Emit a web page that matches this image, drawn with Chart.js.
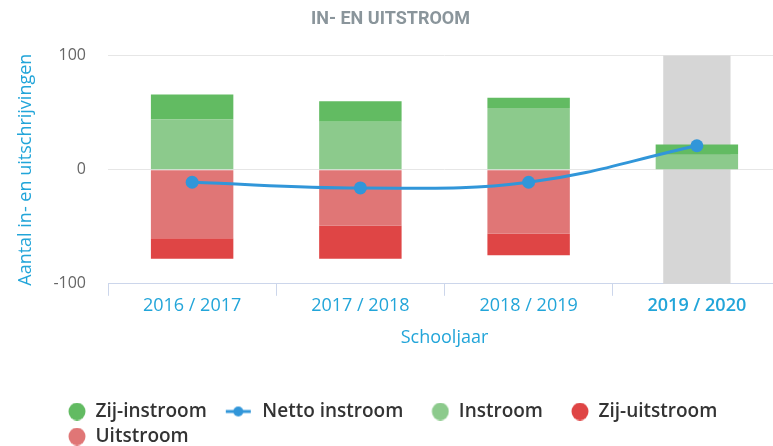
<!DOCTYPE html>
<html lang="nl">
<head>
<meta charset="utf-8">
<title>In- en uitstroom</title>
<script src="https://cdn.jsdelivr.net/npm/chart.js@4.4.1/dist/chart.umd.min.js"></script>
<style>
  html, body { margin: 0; padding: 0; background: #fff; overflow: hidden; }
  #wrap { position: relative; width: 791px; height: 456px; }
</style>
</head>
<body>
<div id="wrap"><canvas id="chart-instroom"></canvas></div>
<script>
const SCHOOLJAREN = ['2016 / 2017', '2017 / 2018', '2018 / 2019', '2019 / 2020'];
const HUIDIG_JAAR = '2019 / 2020';

const ZIJ_INSTROOM = [22, 18, 9, 9];
const INSTROOM = [44, 42, 54, 13];
const UITSTROOM = [-60, -49, -56, 0];
const ZIJ_UITSTROOM = [-18, -29, -19, 0];
const NETTO_INSTROOM = [-11, -16, -11, 21];

const Y_TICKS = [-100, 0, 100];

const COLORS = {
    zijInstroom: '#62bb62',
    instroom: '#8cca8c',
    zijUitstroom: '#df4545',
    uitstroom: '#e07676',
    netto: '#3196d9',
    band: '#d6d6d6',
    blue: '#22a5d9',
    axis: '#ccd6eb',
    grid: '#e6e6e6'
};

const FONT = 'Open Sans';

// legend symbols: circle for bars, line + dot for the netto series
function legendMarker(color, isLine) {
    const c = document.createElement('canvas');
    c.width = 40;
    c.height = 18;
    const g = c.getContext('2d');
    g.fillStyle = color;
    g.strokeStyle = color;
    if (isLine) {
        g.lineWidth = 3;
        g.beginPath(); g.moveTo(13, 9); g.lineTo(38, 9); g.stroke();
        g.beginPath(); g.arc(25.5, 9, 5, 0, Math.PI * 2); g.fill();
    } else {
        g.beginPath(); g.ellipse(31, 9, 8.5, 9, 0, 0, Math.PI * 2); g.fill();
    }
    return c;
}

// grey band behind the current school year
const highlightBand = {
    id: 'highlightBand',
    beforeDatasetsDraw(chart, args, opts) {
        const x = chart.scales.x, y = chart.scales.y;
        const i = x.getLabels().indexOf(opts.label);
        if (i < 0) return;
        const w = x.width / x.getLabels().length * opts.widthRatio;
        const cx = x.getPixelForValue(i);
        const top = y.getPixelForValue(y.max);
        const bottom = y.getPixelForValue(y.min);
        const ctx = chart.ctx;
        ctx.save();
        ctx.fillStyle = opts.color;
        ctx.fillRect(cx - w / 2, top, w, bottom - top);
        ctx.restore();
    }
};

// legend rows start at a fixed indent instead of each row centered
const legendIndent = {
    id: 'legendIndent',
    afterLayout(chart, args, opts) {
        chart.legend.left += opts.offset;
        chart.legend.right += opts.offset;
    }
};

const barStyle = { borderWidth: 0, stack: 'stroom' };

const datasets = [
    { type: 'bar', label: 'Zij-instroom', data: ZIJ_INSTROOM, backgroundColor: COLORS.zijInstroom, order: 2, ...barStyle },
    {
        type: 'line', label: 'Netto instroom', data: NETTO_INSTROOM,
        borderColor: COLORS.netto, backgroundColor: COLORS.netto,
        borderWidth: 3, tension: 0.4, pointRadius: 6.5, pointBorderWidth: 0, order: 0
    },
    { type: 'bar', label: 'Instroom', data: INSTROOM, backgroundColor: COLORS.instroom, order: 1, ...barStyle },
    { type: 'bar', label: 'Zij-uitstroom', data: ZIJ_UITSTROOM, backgroundColor: COLORS.zijUitstroom, order: 2, ...barStyle },
    { type: 'bar', label: 'Uitstroom', data: UITSTROOM, backgroundColor: COLORS.uitstroom, order: 1, ...barStyle }
];

const markers = datasets.map(d => legendMarker(d.backgroundColor, d.type === 'line'));

new Chart(document.getElementById('chart-instroom'), {
    data: { labels: SCHOOLJAREN, datasets },
    plugins: [highlightBand, legendIndent],
    options: {
        responsive: true,
        maintainAspectRatio: false,
        animation: false,
        layout: { padding: { left: 0, right: 10, top: 0, bottom: 0 } },
        datasets: { bar: { categoryPercentage: 1, barPercentage: 0.49 } },
        scales: {
            x: {
                stacked: true,
                grid: { drawOnChartArea: false, drawTicks: true, tickLength: 12, color: COLORS.axis },
                border: { color: COLORS.axis, width: 1 },
                ticks: {
                    padding: -1,
                    color: COLORS.blue,
                    font: ctx => ({
                        family: FONT, size: 18,
                        weight: ctx.tick && ctx.tick.label === HUIDIG_JAAR ? '600' : 'normal'
                    })
                },
                title: {
                    display: true, text: 'Schooljaar', color: COLORS.blue,
                    font: { family: FONT, size: 18 }, padding: { top: 12, bottom: 47 }
                }
            },
            y: {
                stacked: true,
                min: Y_TICKS[0],
                max: Y_TICKS[Y_TICKS.length - 1],
                afterBuildTicks: s => { s.ticks = Y_TICKS.map(v => ({ value: v })); },
                afterFit: s => { s.width = 108; },
                grid: { color: COLORS.grid, drawTicks: false },
                border: { display: false },
                ticks: { padding: 22, color: '#666666', font: { family: FONT, size: 16 } },
                title: {
                    display: true, text: 'Aantal in- en uitschrijvingen', color: COLORS.blue,
                    font: { family: FONT, size: 18 }, padding: { top: 15, bottom: 4 }
                }
            }
        },
        plugins: {
            highlightBand: { label: HUIDIG_JAAR, widthRatio: 0.4, color: COLORS.band },
            legendIndent: { offset: 40 },
            title: {
                display: true, text: 'IN- EN UITSTROOM', color: '#8a959b',
                font: { family: 'Roboto', size: 18, weight: 'bold' },
                padding: { top: 9, bottom: 25 }
            },
            legend: {
                position: 'bottom',
                align: 'start',
                labels: {
                    usePointStyle: true,
                    pointStyleWidth: 40,
                    padding: 6,
                    color: '#333333',
                    font: { family: FONT, size: 19, weight: '600' },
                    generateLabels: chart => Chart.defaults.plugins.legend.labels.generateLabels(chart)
                        .map(item => ({ ...item, pointStyle: markers[item.datasetIndex] }))
                        .sort((a, b) => a.datasetIndex - b.datasetIndex)
                }
            },
            tooltip: { enabled: false }
        }
    }
});
</script>
</body>
</html>
